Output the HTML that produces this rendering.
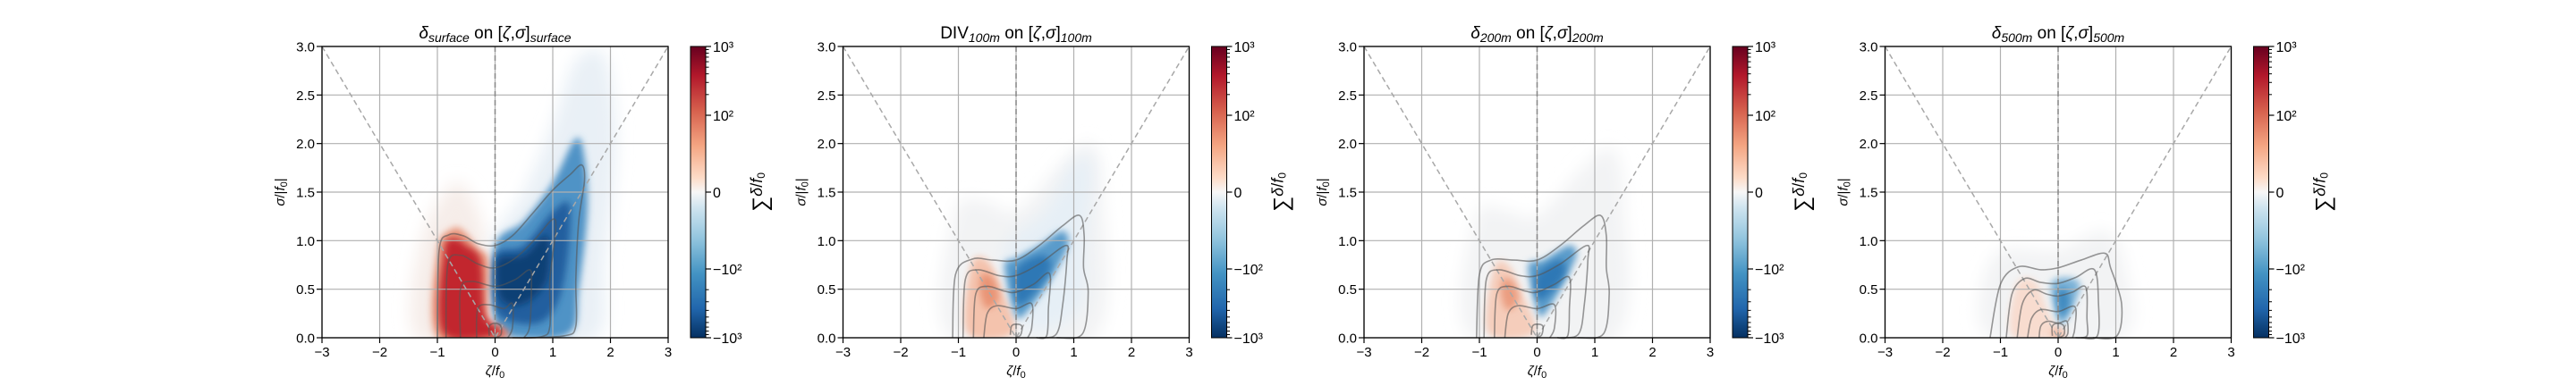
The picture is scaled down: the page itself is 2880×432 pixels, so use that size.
<!DOCTYPE html>
<html><head><meta charset="utf-8">
<style>
html,body{margin:0;padding:0;background:#fff;}
svg{display:block;font-family:"Liberation Sans","DejaVu Sans",sans-serif;}
</style></head>
<body>
<svg id="fig" width="2880" height="432" viewBox="0 0 2880 432" xmlns="http://www.w3.org/2000/svg">
<defs>
  <filter id="blur" filterUnits="userSpaceOnUse" x="0" y="0" width="2880" height="432"><feGaussianBlur stdDeviation="4"/></filter>
  <filter id="blur2" filterUnits="userSpaceOnUse" x="0" y="0" width="2880" height="432"><feGaussianBlur stdDeviation="9"/></filter>
  <linearGradient id="rdbu" x1="0" y1="0" x2="0" y2="1">
    <stop offset="0" stop-color="#67001f"/><stop offset="0.1" stop-color="#b2182b"/>
    <stop offset="0.22" stop-color="#d6604d"/><stop offset="0.34" stop-color="#f4a582"/>
    <stop offset="0.45" stop-color="#fddbc7"/><stop offset="0.5" stop-color="#f7f7f7"/>
    <stop offset="0.55" stop-color="#d1e5f0"/><stop offset="0.66" stop-color="#92c5de"/>
    <stop offset="0.78" stop-color="#4393c3"/><stop offset="0.9" stop-color="#2166ac"/>
    <stop offset="1" stop-color="#053061"/>
  </linearGradient>
</defs>
</svg>
<script>
// ---- data ----
const xTicks = [-3,-2,-1,0,1,2,3];
const yTicks = [0.0,0.5,1.0,1.5,2.0,2.5,3.0];
const titlesMain = ["δ","DIV","δ","δ"];
const titlesSub = ["surface","100m","200m","500m"];
const cbMajor = [1000,100,0,-100,-1000];
const cbMajorLabels = ["10³","10²","0","−10²","−10³"];
const cbMinor = [200,300,400,500,600,700,800,900];

// blobs per panel: [color, points(ζ,σ), blur]
const blobs1 = [
 ["#f6ede9",[[-1.35,0],[-1.3,0.95],[-0.8,1.55],[-0.45,1.5],[-0.15,1.0],[0.1,0.2],[0.2,0]],2],
 ["#e9f0f6",[[-0.1,0.9],[0.5,1.5],[1.0,2.2],[1.4,2.85],[1.9,2.9],[2.1,2.0],[1.9,0.8],[1.75,0],[0.2,0]],2],
 ["#4f93c6",[[0,0.95],[0.5,1.2],[1.0,1.6],[1.4,2.05],[1.55,1.85],[1.6,1.3],[1.45,0.5],[1.3,0.05],[0.4,0],[0,0.15]],1],
 ["#225f9f",[[0,0.85],[0.5,0.95],[1.0,1.3],[1.3,1.35],[1.2,0.6],[0.9,0.2],[0.4,0.15],[0,0.3]],1],
 ["#0f3f75",[[0.05,0.8],[0.5,0.85],[0.9,1.05],[0.9,0.6],[0.5,0.35],[0.1,0.4]],1],
 ["#e8957a",[[-1.0,0],[-1.0,0.9],[-0.75,1.12],[-0.55,1.1],[-0.3,0.92],[-0.12,0.8],[-0.12,0.2],[0.12,0.12],[0.18,0]],1],
 ["#c2272f",[[-0.9,0.05],[-0.88,0.9],[-0.7,1.02],[-0.5,0.95],[-0.25,0.8],[-0.18,0.25],[0.05,0.1],[0.1,0.03]],1]
];
const blobs2 = [
 ["#f2f3f4",[[-1.15,0],[-1.05,1.3],[-0.5,1.4],[0,1.3],[0.8,1.8],[1.3,2.0],[1.5,1.5],[1.35,0]],2],
 ["#e6eff6",[[-0.2,0.9],[0.5,1.3],[1.0,1.8],[1.3,1.8],[1.2,1.0],[1.1,0.3],[0.2,0.1]],2],
 ["#f4c3ad",[[-0.85,0.05],[-0.78,0.75],[-0.5,0.8],[-0.25,0.5],[-0.05,0.05]],1],
 ["#e99476",[[-0.6,0.65],[-0.4,0.62],[-0.3,0.4],[-0.5,0.3],[-0.62,0.45]],1],
 ["#5a9bcb",[[-0.2,0.75],[0,0.82],[0.4,0.95],[0.8,1.1],[0.9,0.95],[0.6,0.6],[0.3,0.35],[0.05,0.2],[-0.07,0.35]],1],
 ["#2f78b5",[[0,0.7],[0.45,0.85],[0.6,0.72],[0.3,0.45],[0.02,0.35]],1]
];
const blobs3 = [
 ["#f2f3f4",[[-1.15,0],[-1.05,1.25],[-0.5,1.3],[0,1.25],[0.8,1.75],[1.3,1.95],[1.5,1.4],[1.35,0]],2],
 ["#f5cdbb",[[-0.85,0.05],[-0.75,0.72],[-0.5,0.75],[-0.25,0.45],[-0.05,0.05]],1],
 ["#eb9d80",[[-0.6,0.6],[-0.42,0.58],[-0.32,0.4],[-0.5,0.28],[-0.62,0.42]],1],
 ["#5a9bcb",[[-0.15,0.75],[0.1,0.8],[0.55,0.95],[0.68,0.85],[0.45,0.55],[0.2,0.3],[0.05,0.22],[-0.05,0.4]],1],
 ["#2f78b5",[[0,0.65],[0.4,0.8],[0.48,0.65],[0.2,0.45],[0,0.4]],1]
];
const blobs4 = [
 ["#f2f3f4",[[-1.2,0],[-1.1,0.85],[0,0.9],[0.8,1.1],[1.15,0.75],[1.1,0]],2],
 ["#f8dccf",[[-0.8,0.02],[-0.72,0.55],[-0.4,0.58],[-0.2,0.3],[-0.05,0.02]],1],
 ["#f3b9a0",[[-0.12,0],[-0.06,0.1],[0.06,0.1],[0.12,0]],1],
 ["#7db3d8",[[-0.12,0.55],[0.15,0.62],[0.38,0.55],[0.25,0.3],[0.1,0.15],[0,0.18]],1],
 ["#3f8ac0",[[-0.02,0.48],[0.15,0.5],[0.2,0.35],[0.08,0.22],[0,0.28]],1]
];

// contours per panel (open curves from bottom-left to bottom-right)
const cont1 = [
 [[-1.0,0],[-0.97,0.9],[-0.8,1.06],[-0.55,1.05],[-0.3,0.97],[0,0.95],[0.3,1.05],[0.65,1.28],[1.0,1.52],[1.3,1.68],[1.5,1.78],[1.55,1.62],[1.45,1.2],[1.4,0.6],[1.4,0.12],[1.2,0.02],[0.5,0]],
 [[-0.85,0],[-0.82,0.75],[-0.6,0.85],[-0.3,0.76],[0,0.72],[0.35,0.82],[0.7,1.02],[1.0,1.22],[1.05,1.1],[0.95,0.6],[0.95,0.12],[0.8,0.01],[0.3,0]],
 [[-0.6,0],[-0.6,0.5],[-0.4,0.58],[0,0.53],[0.35,0.6],[0.6,0.7],[0.63,0.55],[0.6,0.12],[0.5,0]],
 [[-0.32,0],[-0.3,0.3],[-0.1,0.34],[0.15,0.3],[0.3,0.35],[0.3,0.1],[0.22,0]],
 [[-0.1,0.02],[-0.1,0.12],[0,0.15],[0.1,0.12],[0.1,0.03],[0,0]]
];
const cont2 = [
 [[-1.1,0],[-1.05,0.65],[-0.76,0.81],[-0.4,0.8],[0,0.8],[0.4,0.95],[0.8,1.15],[1.1,1.26],[1.18,1.05],[1.17,0.72],[1.25,0.47],[1.15,0.04],[0.7,0]],
 [[-0.92,0],[-0.88,0.6],[-0.66,0.7],[-0.3,0.64],[0,0.64],[0.4,0.76],[0.86,0.95],[0.88,0.8],[0.81,0.35],[0.7,0.04],[0.4,0]],
 [[-0.74,0],[-0.7,0.45],[-0.5,0.53],[-0.2,0.48],[0,0.47],[0.3,0.55],[0.58,0.66],[0.56,0.3],[0.53,0.02],[0.35,0]],
 [[-0.56,0],[-0.5,0.25],[-0.33,0.33],[0,0.3],[0.27,0.35],[0.27,0.1],[0.2,0]],
 [[-0.1,0.03],[-0.08,0.12],[0,0.14],[0.1,0.12],[0.08,0.03],[0,0]]
];
const cont3 = [
 [[-1.05,0],[-1.0,0.65],[-0.8,0.8],[-0.4,0.8],[0,0.8],[0.4,0.95],[0.8,1.15],[1.1,1.26],[1.2,1.05],[1.2,0.72],[1.25,0.45],[1.15,0.04],[0.7,0]],
 [[-0.92,0],[-0.88,0.6],[-0.66,0.7],[-0.3,0.64],[0,0.64],[0.4,0.76],[0.86,0.95],[0.88,0.8],[0.82,0.35],[0.72,0.04],[0.4,0]],
 [[-0.74,0],[-0.7,0.45],[-0.5,0.53],[-0.2,0.48],[0,0.47],[0.3,0.55],[0.56,0.62],[0.56,0.3],[0.53,0.02],[0.35,0]],
 [[-0.56,0],[-0.5,0.25],[-0.33,0.33],[0,0.3],[0.3,0.34],[0.3,0.1],[0.22,0]],
 [[-0.1,0.03],[-0.08,0.12],[0,0.14],[0.1,0.12],[0.08,0.03],[0,0]]
];
const cont4 = [
 [[-1.18,0],[-1.0,0.55],[-0.69,0.73],[-0.3,0.7],[0,0.72],[0.4,0.8],[0.81,0.87],[0.91,0.72],[1.1,0.35],[1.02,0.02],[0.6,0]],
 [[-0.9,0],[-0.8,0.45],[-0.58,0.61],[-0.3,0.57],[0,0.56],[0.3,0.62],[0.63,0.7],[0.7,0.35],[0.68,0.02],[0.4,0]],
 [[-0.71,0],[-0.62,0.35],[-0.43,0.49],[-0.2,0.45],[0,0.43],[0.25,0.47],[0.48,0.52],[0.5,0.2],[0.5,0.02],[0.3,0]],
 [[-0.53,0],[-0.46,0.2],[-0.3,0.29],[0,0.27],[0.29,0.32],[0.29,0.1],[0.25,0]],
 [[-0.33,0],[-0.3,0.12],[-0.18,0.17],[0,0.15],[0.15,0.17],[0.17,0.05],[0.12,0]],
 [[-0.1,0.02],[-0.1,0.12],[0,0.15],[0.1,0.12],[0.1,0.03],[0,0]]
];

// ---- layout ----
const NS="http://www.w3.org/2000/svg";
const svg=document.getElementById('fig');
const lefts=[360,942.5,1525,2107.5], AW=387, AT=52, AH=326;
const allBlobs=[blobs1,blobs2,blobs3,blobs4], allConts=[cont1,cont2,cont3,cont4];
function mk(tag,attrs,parent){const e=document.createElementNS(NS,tag);for(const k in attrs)e.setAttribute(k,attrs[k]);(parent||svg).appendChild(e);return e;}
function smooth(pts,closed){
  let d="M"+pts[0][0]+","+pts[0][1];
  const n=pts.length;
  for(let i=0;i<(closed?n:n-1);i++){
    const p0=pts[closed?(i-1+n)%n:Math.max(i-1,0)],p1=pts[i],p2=pts[(i+1)%n],p3=pts[closed?(i+2)%n:Math.min(i+2,n-1)];
    const c1=[p1[0]+(p2[0]-p0[0])/6,p1[1]+(p2[1]-p0[1])/6],c2=[p2[0]-(p3[0]-p1[0])/6,p2[1]-(p3[1]-p1[1])/6];
    d+=" C"+c1[0]+","+c1[1]+" "+c2[0]+","+c2[1]+" "+p2[0]+","+p2[1];
  }
  return d+(closed?"Z":"");
}
for(let p=0;p<4;p++){
  const L=lefts[p];
  const X=v=>L+(v+3)/6*AW, Y=v=>AT+AH-(v/3)*AH;
  const g=mk('g',{});
  
  
  const cp=mk('clipPath',{id:'clip'+p},g); mk('rect',{x:L,y:AT,width:AW,height:AH},cp);
  const bg=mk('g',{'clip-path':'url(#clip'+p+')'},g);
  
  
  allBlobs[p].forEach(b=>{
    const e=mk('path',{d:smooth(b[1].map(q=>[X(q[0]),Y(q[1])]),true),fill:b[0],filter:b[2]==2?'url(#blur2)':'url(#blur)'},bg);
    
    
  });
  xTicks.forEach(t=>{const e=mk('line',{x1:X(t),x2:X(t),y1:AT,y2:AT+AH,stroke:'#b0b0b0','stroke-width':1.2},g);
    });
  yTicks.forEach(t=>{const e=mk('line',{x1:L,x2:L+AW,y1:Y(t),y2:Y(t),stroke:'#b0b0b0','stroke-width':1.2},g);
    });
  const v=mk('polyline',{points:X(-3)+","+Y(3)+" "+X(0)+","+Y(0)+" "+X(3)+","+Y(3),fill:'none',stroke:'#a8a8a8','stroke-width':1.5,'stroke-dasharray':'6,4'},g);
  
  const z=mk('line',{x1:X(0),x2:X(0),y1:AT,y2:AT+AH,stroke:'#888','stroke-width':1.5,'stroke-dasharray':'6,4'},g);
  
  allConts[p].forEach(c=>{const e=mk('path',{d:smooth(c.map(q=>[X(q[0]),Y(q[1])]),false),fill:'none',stroke:'#555','stroke-opacity':0.6,'stroke-width':1.6},g);
    });
  const fr=mk('rect',{x:L,y:AT,width:AW,height:AH,fill:'none',stroke:'#000','stroke-width':1.3},g);
  
  xTicks.forEach(t=>{mk('line',{x1:X(t),x2:X(t),y1:AT+AH,y2:AT+AH+6,stroke:'#000','stroke-width':1.2},g);
    const tx=mk('text',{x:X(t),y:AT+AH+21,'font-size':15,'text-anchor':'middle'},g);tx.textContent=(t<0?'−':'')+Math.abs(t);
    });
  yTicks.forEach(t=>{mk('line',{x1:L-6,x2:L,y1:Y(t),y2:Y(t),stroke:'#000','stroke-width':1.2},g);
    const tx=mk('text',{x:L-8,y:Y(t)+5.5,'font-size':15,'text-anchor':'end'},g);tx.textContent=t.toFixed(1);
    });
  const xl=mk('text',{x:L+AW/2,y:AT+AH+42,'font-size':15,'text-anchor':'middle'},g);
  xl.innerHTML='<tspan font-style="italic">ζ</tspan>/<tspan font-style="italic">f</tspan><tspan font-size="11" dy="3">0</tspan>';
  
  const yl=mk('text',{x:0,y:0,'font-size':15,'text-anchor':'middle',transform:'translate('+(L-42)+','+(AT+AH/2)+') rotate(-90)'},g);
  yl.innerHTML='<tspan font-style="italic">σ</tspan>/|<tspan font-style="italic">f</tspan><tspan font-size="11" dy="3">0</tspan><tspan dy="-3">|</tspan>';
  
  const tt=mk('text',{x:L+AW/2,y:AT-9,'font-size':19,'text-anchor':'middle'},g);
  const m=titlesMain[p]=='δ'?'<tspan font-style="italic">δ</tspan>':'DIV';
  tt.innerHTML=m+'<tspan font-size="14" dy="4" font-style="italic">'+titlesSub[p]+'</tspan><tspan dy="-4"> on [</tspan><tspan font-style="italic">ζ</tspan>,<tspan font-style="italic">σ</tspan>]<tspan font-size="14" dy="4" font-style="italic">'+titlesSub[p]+'</tspan>';
  
  const CL=L+412, CW=17;
  const CY=v=>{
    if(v===0)return AT+AH/2;
    const s=Math.sign(v),a=Math.abs(v);
    return AT+AH/2 - s*(a<=10?a/10*9:9+77*(Math.log10(a)-1));
  };
  const cb=mk('rect',{x:CL,y:AT,width:CW,height:AH,fill:'url(#rdbu)',stroke:'#000','stroke-width':1},g);
  
  cbMajor.forEach((t,i)=>{mk('line',{x1:CL+CW,x2:CL+CW+6,y1:CY(t),y2:CY(t),stroke:'#000','stroke-width':1.2},g);
    const tx=mk('text',{x:CL+CW+8,y:CY(t)+6,'font-size':16},g);tx.textContent=cbMajorLabels[i];
    });
  cbMinor.forEach(t=>{[t,-t].forEach(u=>mk('line',{x1:CL+CW,x2:CL+CW+3.5,y1:CY(u),y2:CY(u),stroke:'#000','stroke-width':1},g));});
  const cl=mk('text',{x:0,y:0,'font-size':18,'text-anchor':'middle',transform:'translate('+(CL+86)+','+(AT+AH/2)+') rotate(-90)'},g);
  cl.innerHTML='<tspan font-size="24">∑</tspan><tspan font-style="italic" dy="-6">δ</tspan><tspan dy="0">/</tspan><tspan font-style="italic">f</tspan><tspan font-size="12" dy="3">0</tspan>';
  
}
</script>
</body></html>
